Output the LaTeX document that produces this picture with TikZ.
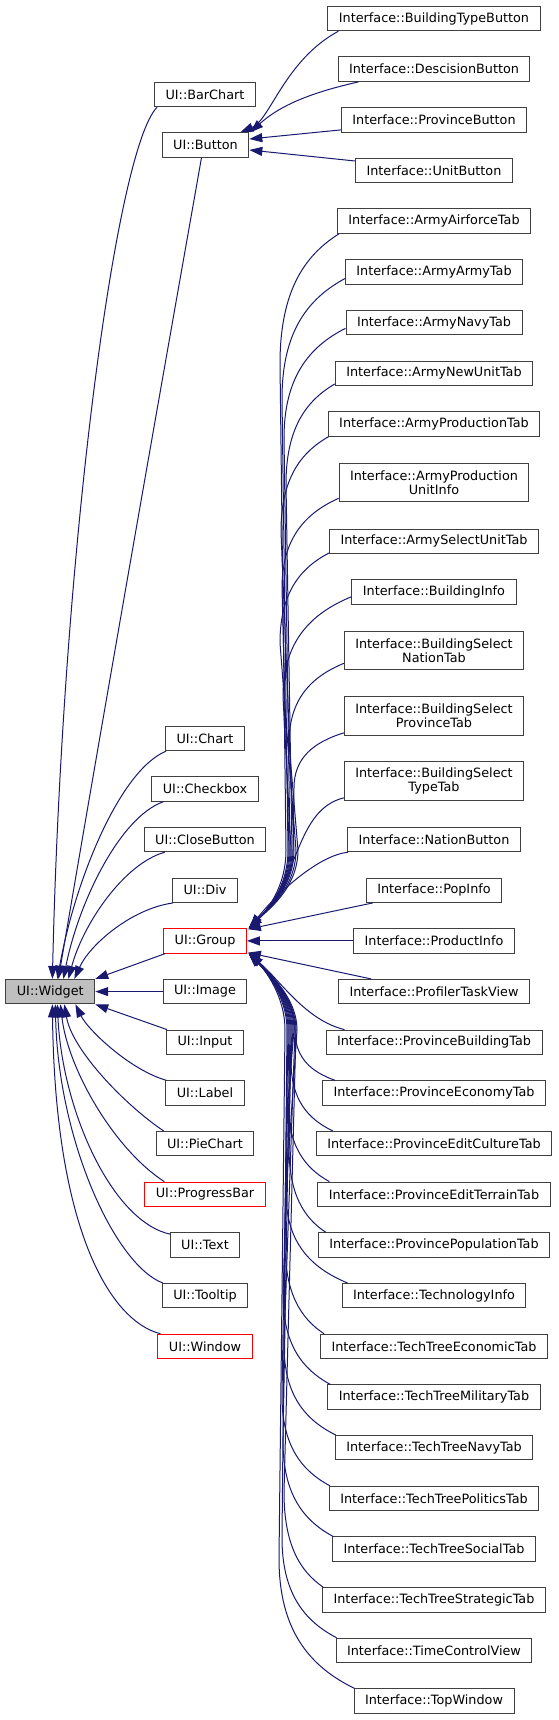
\documentclass[tikz,border=0pt]{standalone}
\usepackage{fontspec}
\usetikzlibrary{arrows.meta,calc}
\newfontfamily\boxfontfam{DejaVu Sans}
\newcommand\boxfont{\boxfontfam\fontsize{12.8}{14}\selectfont}
\definecolor{edgeblue}{HTML}{191970}
\definecolor{boxgray}{HTML}{404040}
\definecolor{rootgray}{HTML}{BFBFBF}
\tikzset{
  box/.style={draw=boxgray, line width=1pt, fill=white, inner xsep=11pt, inner ysep=2pt,
    minimum height=24.4pt, font=\boxfont, align=center},
  two/.style={minimum height=38.6pt},
  trunc/.style={draw=red},
  root/.style={fill=rootgray},
  inh/.style={draw=edgeblue, line width=1pt, >={Triangle[length=13pt,width=9pt]}, <-}
}
\newcommand\upedge[5]{%
  \coordinate (E#1) at ($(#1.south west)+#5$);
  \coordinate (X#1) at (#2,0);
  \coordinate (V#1) at (E#1 -| X#1);
  \draw[inh] ($(uigroup.north east)+(2,0)$) .. controls ($(uigroup.north east)+(17,-15)$) and (#3,890) .. (#3,850)
    -- ($(V#1)+(0,#4)$) .. controls ($(V#1)+(0,0.45*#4)$) and ($(E#1)!0.6!(V#1)+(0,0.17*#4)$) .. (E#1);
}
\newcommand\downedge[5]{%
  \coordinate (E#1) at ($(#1.north west)+#5$);
  \coordinate (X#1) at (#2,0);
  \coordinate (V#1) at (E#1 -| X#1);
  \draw[inh] ($(uigroup.south east)+(2,0)$) .. controls ($(uigroup.south east)+(17,15)$) and (#3,995) .. (#3,1030)
    -- ($(V#1)+(0,-#4)$) .. controls ($(V#1)+(0,-0.45*#4)$) and ($(E#1)!0.6!(V#1)+(0,-0.17*#4)$) .. (E#1);
}
\begin{document}
\begin{tikzpicture}[x=1pt,y=-1pt]
\useasboundingbox (0,0) rectangle (559,1720);
% root
\node[box,root] (widget) at (50.3,991.6) {UI::Widget};
% middle column
\node[box] (uibarchart) at (205,94.5) {UI::BarChart};
\node[box] (uibutton) at (205.5,145) {UI::Button};
\node[box] (uichart) at (205,738.5) {UI::Chart};
\node[box] (uicheckbox) at (205,789) {UI::Checkbox};
\node[box] (uiclosebutton) at (205,839.5) {UI::CloseButton};
\node[box] (uidiv) at (205,890.2) {UI::Div};
\node[box,trunc] (uigroup) at (205,940.9) {UI::Group};
\node[box] (uiimage) at (205,991.6) {UI::Image};
\node[box] (uiinput) at (205,1042.3) {UI::Input};
\node[box] (uilabel) at (205,1093) {UI::Label};
\node[box] (uipiechart) at (205,1143.6) {UI::PieChart};
\node[box,trunc] (uiprogressbar) at (205,1194.3) {UI::ProgressBar};
\node[box] (uitext) at (205,1245) {UI::Text};
\node[box] (uitooltip) at (205,1295.7) {UI::Tooltip};
\node[box,trunc] (uiwindow) at (205,1346.4) {UI::Window};
% right column
\node[box] (btb) at (434,18.5) {Interface::BuildingTypeButton};
\node[box] (db) at (434,69.2) {Interface::DescisionButton};
\node[box] (pb) at (434,119.9) {Interface::ProvinceButton};
\node[box] (ub) at (434,170.5) {Interface::UnitButton};
\node[box] (aat) at (434,221.2) {Interface::ArmyAirforceTab};
\node[box] (aart) at (434,271.9) {Interface::ArmyArmyTab};
\node[box] (ant) at (434,322.6) {Interface::ArmyNavyTab};
\node[box] (anut) at (434,373.3) {Interface::ArmyNewUnitTab};
\node[box] (apt) at (434,423.9) {Interface::ArmyProductionTab};
\node[box,two] (apui) at (434,482.5) {Interface::ArmyProduction\\UnitInfo};
\node[box] (asut) at (434,541.3) {Interface::ArmySelectUnitTab};
\node[box] (bi) at (434,592) {Interface::BuildingInfo};
\node[box,two] (bsnt) at (434,650.5) {Interface::BuildingSelect\\NationTab};
\node[box,two] (bspt) at (434,716) {Interface::BuildingSelect\\ProvinceTab};
\node[box,two] (bstt) at (434,781) {Interface::BuildingSelect\\TypeTab};
\node[box] (nb) at (434,839.5) {Interface::NationButton};
\node[box] (popi) at (434,890.2) {Interface::PopInfo};
\node[box] (prodi) at (434,940.9) {Interface::ProductInfo};
\node[box] (ptv) at (434,991.6) {Interface::ProfilerTaskView};
\node[box] (pbt) at (434,1042.3) {Interface::ProvinceBuildingTab};
\node[box] (pet) at (434,1093) {Interface::ProvinceEconomyTab};
\node[box] (pect) at (434,1143.6) {Interface::ProvinceEditCultureTab};
\node[box] (pett) at (434,1194.3) {Interface::ProvinceEditTerrainTab};
\node[box] (ppt) at (434,1245) {Interface::ProvincePopulationTab};
\node[box] (ti) at (434,1295.7) {Interface::TechnologyInfo};
\node[box] (ttet) at (434,1346.4) {Interface::TechTreeEconomicTab};
\node[box] (ttmt) at (434,1397.1) {Interface::TechTreeMilitaryTab};
\node[box] (ttnt) at (434,1447.7) {Interface::TechTreeNavyTab};
\node[box] (ttpt) at (434,1498.4) {Interface::TechTreePoliticsTab};
\node[box] (ttsot) at (434,1549.1) {Interface::TechTreeSocialTab};
\node[box] (ttstt) at (434,1599.8) {Interface::TechTreeStrategicTab};
\node[box] (tcv) at (434,1650.4) {Interface::TimeControlView};
\node[box] (tw) at (434,1701.1) {Interface::TopWindow};

% ---- Widget children
\draw[inh] ($(widget.north west)+(47,0)$) .. controls (62,560) and (115,150) .. ($(uibarchart.south west)+(3,0)$);
\draw[inh] ($(widget.north west)+(53,0)$) .. controls (105,705) and (153,432) .. ($(uibutton.south)+(-4,0)$);
\draw[inh] ($(widget.north west)+(52,0)$) .. controls (75,880) and (120,770) .. ($(uichart.south west)+(1,0)$);
\draw[inh] ($(widget.north west)+(58,0)$) .. controls (78.6,902) and (120,817) .. ($(uicheckbox.south west)+(12,0)$);
\draw[inh] ($(widget.north west)+(63,0)$) .. controls (83,924) and (124,863.5) .. ($(uiclosebutton.south west)+(21,0)$);
\draw[inh] ($(widget.north west)+(69,0)$) .. controls (89,946) and (130,909) .. ($(uidiv.south west)+(1,0)$);
\draw[inh] (widget.north east) -- ($(uigroup.south west)+(2,0)$);
\draw[inh] (widget.east) -- (uiimage.west);
\draw[inh] (widget.south east) -- ($(uiinput.north west)+(1,0)$);
\draw[inh] ($(widget.south west)+(70,0)$) .. controls (88,1030) and (130,1070) .. ($(uilabel.north west)+(1,0)$);
\draw[inh] ($(widget.south west)+(59,0)$) .. controls (72,1050) and (125,1105) .. ($(uipiechart.north west)+(8,0)$);
\draw[inh] ($(widget.south west)+(55,0)$) .. controls (68,1070) and (115,1150) .. ($(uiprogressbar.north west)+(20,0)$);
\draw[inh] ($(widget.south west)+(52,0)$) .. controls (62,1110) and (112,1222) .. ($(uitext.north west)+(1,2)$);
\draw[inh] ($(widget.south west)+(50,0)$) .. controls (58,1140) and (115,1265) .. ($(uitooltip.north west)+(1,0)$);
\draw[inh] ($(widget.south west)+(47,0)$) .. controls (55,1229) and (110,1321) .. ($(uiwindow.north west)+(3,0)$);

% ---- Button children
\draw[inh] ($(uibutton.north east)+(-9,0)$) .. controls (270,120) and (285,60) .. ($(btb.south west)+(11,0)$);
\draw[inh] ($(uibutton.north east)+(1,0)$) .. controls (275,110) and (300,95) .. ($(db.south west)+(21,0)$);
\draw[inh] ($(uibutton.east)+(0,-6)$) -- ($(pb.west)+(0,10)$);
\draw[inh] ($(uibutton.east)+(0,5)$) -- ($(ub.west)+(0,-9.5)$);

% ---- Group children (upper)
\upedge{aat}{280}{286}{130}{(2,0)}
\upedge{aart}{282}{288}{120}{(0,-6)}
\upedge{ant}{284}{290}{110}{(0,-7)}
\upedge{anut}{286}{292}{100}{(0,-2)}
\upedge{apt}{281}{294}{95}{(1,0)}
\upedge{apui}{282}{289}{90}{(0,-4)}
\upedge{asut}{280}{296}{90}{(0,-1)}
\upedge{bi}{283}{291}{100}{(0,-8)}
\upedge{bsnt}{289}{298}{80}{(0,-7)}
\upedge{bspt}{294}{293}{55}{(0,-3)}
\draw[inh] ($(uigroup.north east)+(2,0)$) .. controls (300,880) and (295,810) .. ($(bstt.south west)+(0,-3)$);
\draw[inh] ($(uigroup.north east)+(3,-1)$) .. controls (280,890) and (320,855) .. ($(nb.south west)+(1,0)$);
\draw[inh] ($(uigroup.north east)+(1,1)$) -- ($(popi.south west)+(7,0)$);
\draw[inh] (uigroup.east) -- (prodi.west);
\draw[inh] ($(uigroup.south east)+(1,-1)$) -- ($(ptv.north west)+(33,0)$);
% ---- Group children (lower)
\draw[inh] ($(uigroup.south east)+(3,1)$) .. controls (280,980) and (305,1020) .. ($(pbt.north west)+(19,0)$);
\downedge{pet}{295}{295}{50}{(13,0)}
\downedge{pect}{291}{293}{70}{(17,0)}
\downedge{pett}{288}{294}{80}{(12,0)}
\downedge{ppt}{289}{291}{85}{(8,0)}
\downedge{ti}{286}{297}{90}{(6,0)}
\downedge{ttet}{285}{289}{90}{(4,0)}
\downedge{ttmt}{283}{292}{90}{(3,0)}
\downedge{ttnt}{284}{295}{90}{(1,0)}
\downedge{ttpt}{282}{288}{90}{(1,0)}
\downedge{ttsot}{283}{290}{95}{(1,0)}
\downedge{ttstt}{284}{296}{95}{(1,0)}
\downedge{tcv}{282}{287}{100}{(1,0)}
\downedge{tw}{279}{285}{130}{(1,0)}
\end{tikzpicture}
\end{document}
